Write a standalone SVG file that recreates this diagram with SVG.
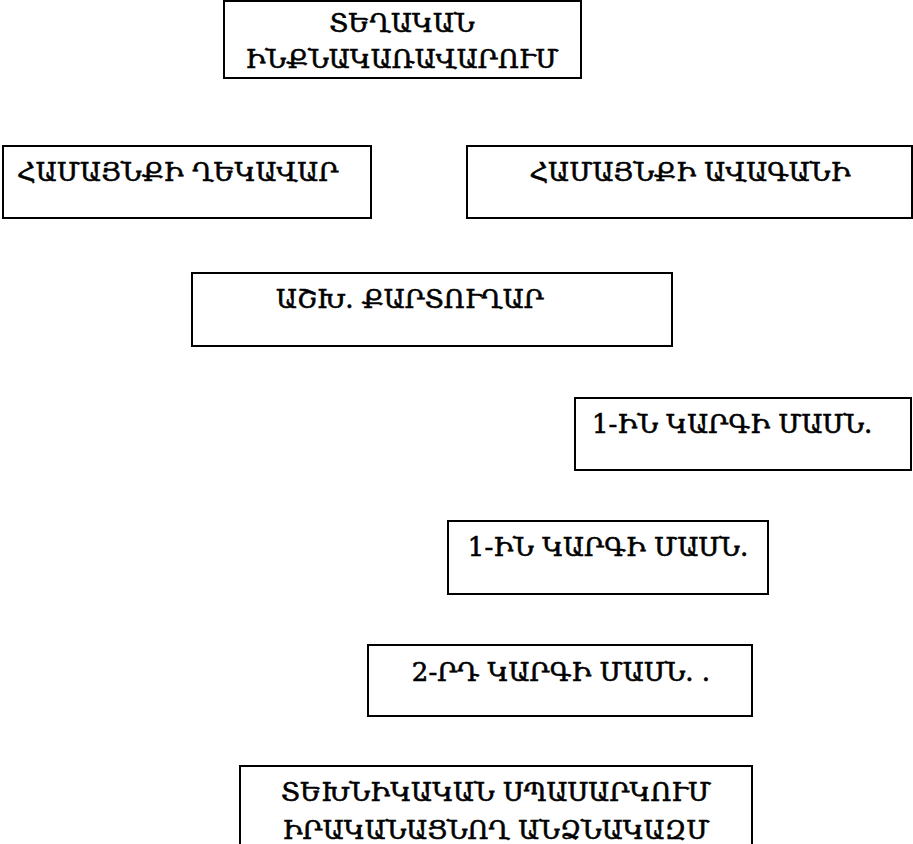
<svg xmlns="http://www.w3.org/2000/svg" width="913" height="844" viewBox="0 0 913 844">
<style>
.box{fill:#fff;stroke:#000;stroke-width:2}
.t{font-family:"DejaVu Serif","DejaVu Sans",serif;font-size:26px;fill:#000;stroke:#000;stroke-width:0.6}
.c{text-anchor:middle}
</style>
<rect width="913" height="844" fill="#fff"/>
<g id="connectors"></g>
<g id="n1"><rect class="box" x="224" y="1" width="357" height="77"/><text class="t c" x="402" y="32">ՏԵՂԱԿԱՆ</text><text class="t c" x="402" y="68">ԻՆՔՆԱԿԱՌԱՎԱՐՈՒՄ</text></g>
<g id="n2"><rect class="box" x="3" y="146" width="368" height="72"/><text class="t" x="17" y="181">ՀԱՄԱՅՆՔԻ ՂԵԿԱՎԱՐ</text></g>
<g id="n3"><rect class="box" x="467" y="146" width="445" height="72"/><text class="t c" x="690" y="181">ՀԱՄԱՅՆՔԻ ԱՎԱԳԱՆԻ</text></g>
<g id="n4"><rect class="box" x="192" y="273" width="480" height="73"/><text class="t" x="276" y="308">ԱՇԽ. ՔԱՐՏՈՒՂԱՐ</text></g>
<g id="n5"><rect class="box" x="575" y="398" width="336" height="72"/><text class="t" x="592" y="433">1-ԻՆ ԿԱՐԳԻ ՄԱՍՆ.</text></g>
<g id="n6"><rect class="box" x="448" y="521" width="320" height="73"/><text class="t c" x="608" y="556">1-ԻՆ ԿԱՐԳԻ ՄԱՍՆ.</text></g>
<g id="n7"><rect class="box" x="368" y="645" width="384" height="71"/><text class="t c" x="561" y="681">2-ՐԴ ԿԱՐԳԻ ՄԱՍՆ. .</text></g>
<g id="n8"><rect class="box" x="240" y="766" width="512" height="100"/><text class="t c" x="496" y="801">ՏԵԽՆԻԿԱԿԱՆ ՍՊԱՍԱՐԿՈՒՄ</text><text class="t c" x="496" y="839">ԻՐԱԿԱՆԱՑՆՈՂ ԱՆՁՆԱԿԱԶՄ</text></g>
</svg>
